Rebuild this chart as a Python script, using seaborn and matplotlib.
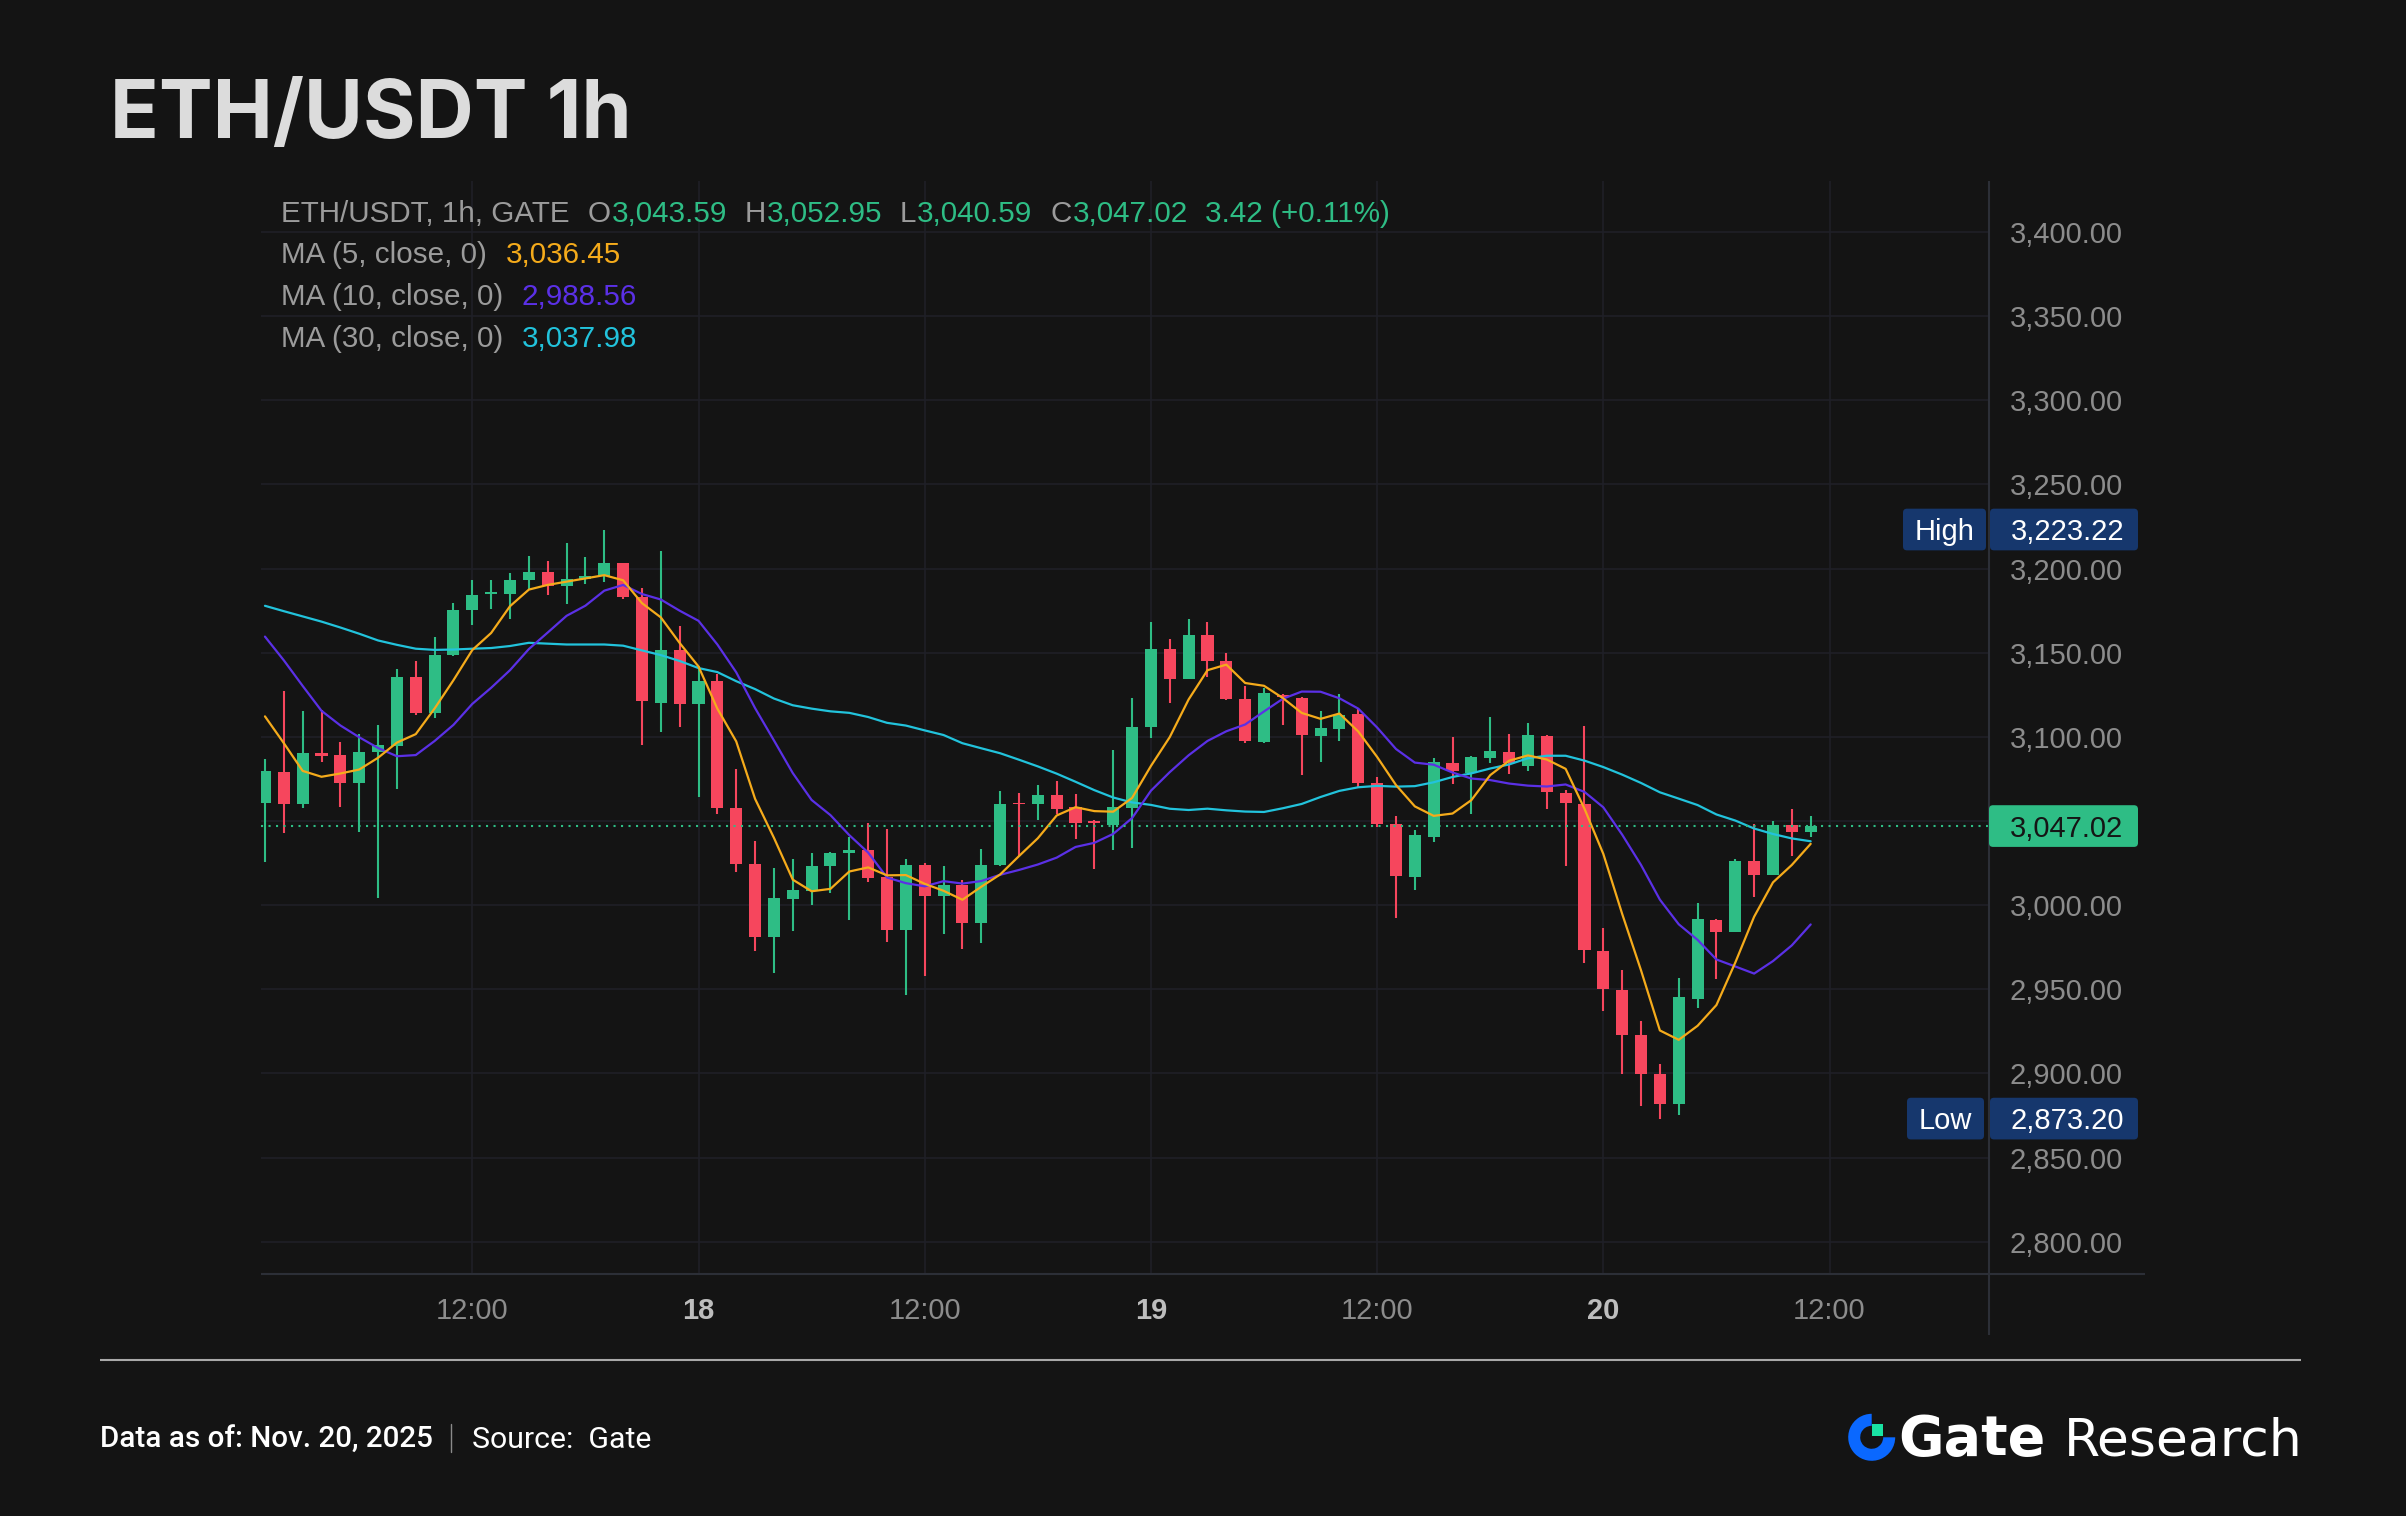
import numpy as np
import pandas as pd
import matplotlib
matplotlib.use("Agg")
import matplotlib.pyplot as plt
import seaborn as sns
from matplotlib.patches import FancyBboxPatch, Wedge, Rectangle

# ETH/USDT hourly candles, 17 Nov 2025 01:00 through 20 Nov 2025 11:00
opens = [3060.8, 3078.9, 3059.9, 3090.4, 3089.0, 3072.6, 3091.1, 3094.6, 3135.7, 3113.9,
         3148.6, 3175.4, 3185.0, 3185.0, 3193.0, 3197.9, 3189.7, 3193.7, 3195.8, 3203.1,
         3183.1, 3120.4, 3151.9, 3119.7, 3133.3, 3058.0, 3024.7, 2981.3, 3003.6, 3008.7,
         3023.0, 3031.0, 3032.7, 3016.5, 2985.2, 3023.9, 3005.3, 3012.2, 2989.5, 3023.9,
         3060.8, 3059.9, 3065.3, 3058.2, 3049.8, 3047.4, 3057.5, 3105.9, 3152.1, 3134.5,
         3160.3, 3145.3, 3122.3, 3096.9, 3125.1, 3123.3, 3100.3, 3104.5, 3113.4, 3072.7,
         3048.1, 3016.9, 3040.6, 3084.5, 3078.7, 3087.3, 3091.1, 3082.9, 3100.3, 3066.9,
         3060.4, 2972.6, 2949.8, 2922.6, 2899.6, 2882.0, 2944.4, 2991.1, 2984.33, 3026.0,
         3018.22, 3047.43, 3043.59]
highs = [3086.9, 3127.5, 3115.5, 3116.2, 3096.7, 3101.7, 3106.8, 3140.2, 3145.3, 3159.4,
         3179.3, 3193.0, 3193.0, 3197.2, 3207.5, 3204.7, 3215.0, 3206.8, 3223.22, 3203.5,
         3188.5, 3210.6, 3166.0, 3142.0, 3137.3, 3081.0, 3038.1, 3021.9, 3027.7, 3031.3,
         3031.5, 3040.4, 3049.1, 3045.3, 3027.7, 3024.9, 3023.3, 3015.1, 3033.6, 3067.9,
         3066.9, 3071.6, 3073.5, 3066.2, 3050.5, 3092.0, 3123.3, 3168.3, 3158.0, 3170.0,
         3168.3, 3149.8, 3130.3, 3129.1, 3125.5, 3124.0, 3115.5, 3125.6, 3116.9, 3076.3,
         3052.8, 3044.4, 3087.3, 3099.8, 3088.6, 3112.0, 3101.7, 3108.3, 3101.0, 3068.7,
         3106.4, 2986.4, 2961.3, 2931.3, 2905.4, 2956.6, 3001.2, 2991.8, 3027.7, 3048.2,
         3049.8, 3057.1, 3052.95]
lows = [3025.9, 3042.7, 3057.5, 3085.2, 3058.5, 3043.5, 3004.3, 3068.8, 3113.0, 3111.5,
        3148.0, 3166.4, 3176.1, 3170.2, 3187.8, 3184.3, 3179.1, 3190.8, 3192.0, 3181.9,
        3095.3, 3102.8, 3105.9, 3064.1, 3054.0, 3020.0, 2972.6, 2959.9, 2984.8, 3000.0,
        3007.1, 2991.1, 3014.0, 2978.1, 2946.8, 2957.8, 2983.0, 2974.0, 2977.7, 3023.5,
        3029.4, 3050.5, 3054.0, 3039.3, 3021.4, 3032.7, 3034.1, 3099.3, 3120.2, 3134.3,
        3135.5, 3122.0, 3096.5, 3096.5, 3107.3, 3077.5, 3085.2, 3097.6, 3069.6, 3046.3,
        2992.5, 3009.0, 3037.6, 3072.3, 3054.0, 3084.2, 3078.0, 3079.9, 3057.1, 3023.5,
        2965.6, 2937.1, 2899.6, 2880.8, 2873.20, 2875.5, 2939.0, 2956.2, 2984.33, 3004.7,
        3018.22, 3029.4, 3040.59]
closes = [3079.6, 3059.9, 3090.4, 3088.8, 3072.6, 3091.3, 3094.9, 3135.5, 3113.9, 3148.8,
          3175.4, 3184.5, 3186.2, 3193.4, 3198.1, 3189.4, 3194.1, 3195.8, 3203.1, 3182.9,
          3121.4, 3151.9, 3119.7, 3133.3, 3057.5, 3024.2, 2981.3, 3004.0, 3008.9, 3023.0,
          3031.3, 3032.9, 3016.2, 2985.2, 3023.9, 3005.3, 3012.2, 2989.5, 3023.9, 3060.3,
          3059.9, 3065.3, 3057.1, 3048.6, 3048.6, 3058.2, 3106.1, 3152.1, 3134.5, 3160.3,
          3145.1, 3122.7, 3097.5, 3126.2, 3123.9, 3100.9, 3105.1, 3113.3, 3072.8, 3048.3,
          3017.5, 3041.7, 3085.1, 3079.7, 3088.2, 3091.7, 3084.5, 3100.9, 3067.5, 3060.5,
          2973.2, 2950.2, 2922.7, 2899.8, 2882.0, 2945.4, 2991.8, 2984.33, 3026.0, 3018.22,
          3047.43, 3043.60, 3047.02]

# moving-average values of the first bars, whose look-back window reaches before 17 Nov 01:00
ma5_lead = [3112.2, 3096.3, 3079.8, 3076.3]
ma10_lead = [3159.6, 3145.5, 3130.3, 3115.5, 3106.8, 3099.8, 3093.4, 3088.5, 3089.2]
ma30_lead = [3177.9, 3174.7, 3171.6, 3168.5, 3165.0, 3161.3, 3157.3, 3154.7, 3152.4, 3151.7,
             3151.9, 3152.4, 3152.8, 3154.0, 3155.9, 3155.4, 3154.9, 3154.9, 3154.9, 3154.2,
             3151.4, 3148.6, 3145.1, 3140.9, 3138.5, 3133.1, 3128.4, 3122.8, 3118.8]

first_bar = "2025-11-17 01:00"
price_ticks = list(range(2800, 3401, 50))

# ---------------------------------------------------------------- style
BG = "#141414"
GRID = "#1f2027"
AXLINE = "#2c2f37"
GREEN = "#2ebd85"
RED = "#f6465d"
C_MA5 = "#f5ab1b"
C_MA10 = "#5b30e6"
C_MA30 = "#22c3dc"
LEGEND_GRAY = "#9b9b9b"
TICK_GRAY = "#8c8c8c"
TAG_BLUE = "#16376d"
UI_FONT = ["Liberation Sans", "DejaVu Sans"]

sns.set_theme(style="dark", rc={
    "figure.facecolor": BG, "axes.facecolor": BG, "savefig.facecolor": BG,
    "axes.edgecolor": BG, "grid.color": GRID, "axes.grid": True,
})
plt.rcParams["font.family"] = UI_FONT

W, H = 2406, 1516
fig = plt.figure(figsize=(W / 100, H / 100), dpi=100)

# plot area in pixels (left, top, right, bottom)
PL, PT, PR, PB = 261, 181, 1989, 1273.6
ax = fig.add_axes([PL / W, 1 - PB / H, (PR - PL) / W, (PB - PT) / H])

n = len(closes)
bars = np.arange(n)
o = np.array(opens); h = np.array(highs); l = np.array(lows); c = np.array(closes)

# hourly time axis, extended past the last bar to leave room on the right
hours = pd.date_range(first_bar, periods=n + 10, freq="h")
tick_idx = [i for i, t in enumerate(hours) if t.hour in (0, 12)]
tick_lab = [str(hours[i].day) if hours[i].hour == 0 else "12:00" for i in tick_idx]

ax.set_xlim(-0.21, 91.46)
ax.set_ylim(2781.1, 3430.3)

# moving averages of the close
close_s = pd.Series(c)
def moving_average(window, lead):
    ma = close_s.rolling(window).mean().to_numpy()
    ma[:len(lead)] = lead
    return ma

ma = pd.DataFrame({
    "bar": bars,
    "MA5": moving_average(5, ma5_lead),
    "MA10": moving_average(10, ma10_lead),
    "MA30": moving_average(30, ma30_lead),
})

# candles
up = c >= o
col = np.where(up, GREEN, RED)
ax.vlines(bars, l, h, colors=col, linewidth=1.5, zorder=3)
body_lo = np.minimum(o, c)
body_h = np.maximum(np.abs(c - o), 0.9)
ax.bar(bars, body_h, bottom=body_lo, width=0.64, color=col, linewidth=0, zorder=4)

long = ma.melt(id_vars="bar", var_name="series", value_name="value")
sns.lineplot(data=long, x="bar", y="value", hue="series",
             palette={"MA5": C_MA5, "MA10": C_MA10, "MA30": C_MA30},
             hue_order=["MA30", "MA10", "MA5"], linewidth=1.6, legend=False,
             ax=ax, zorder=5)

# last price line
last = c[-1]
ax.axhline(last, color=GREEN, linewidth=1.5, linestyle=(0, (1, 2.6)), zorder=6)

# axes, ticks, grid
for s in ax.spines.values():
    s.set_visible(False)
ax.set_xlabel(""); ax.set_ylabel("")
ax.set_yticks(price_ticks, labels=[f"{v:,.2f}" for v in price_ticks])
ax.yaxis.tick_right()
ax.tick_params(axis="y", length=0, pad=15, labelsize=21, labelcolor=TICK_GRAY)
ax.set_xticks(tick_idx, labels=tick_lab)
ax.tick_params(axis="x", length=0, pad=17, labelsize=21, labelcolor=TICK_GRAY)
for t in ax.get_xticklabels():
    if t.get_text() != "12:00":
        t.set_fontweight("bold")
        t.set_color("#bdbdbd")
ax.grid(True, color=GRID, linewidth=1.2)
ax.set_axisbelow(True)

# ---------------------------------------------------------------- overlay in pixel units
ov = fig.add_axes([0, 0, 1, 1], zorder=10)
ov.set_xlim(0, W); ov.set_ylim(H, 0)
ov.axis("off")
ov.patch.set_alpha(0)

# axis frame lines
ov.plot([PL, 2145], [PB, PB], color=AXLINE, linewidth=1.5, solid_capstyle="butt")
ov.plot([PR, PR], [PT, 1335], color=AXLINE, linewidth=1.5, solid_capstyle="butt")

renderer = fig.canvas.get_renderer()

def price_to_px(p):
    return H - ax.transData.transform((0, p))[1]

def tag(x0, x1, price, text, face, tcolor, ha="left", tx=None):
    yc = price_to_px(price)
    bh = 41.7
    ov.add_patch(FancyBboxPatch((x0, yc - bh / 2), x1 - x0, bh,
                                boxstyle="round,pad=0,rounding_size=4",
                                facecolor=face, edgecolor="none", zorder=20))
    ov.text(tx if tx is not None else x0 + 21, yc + 10.5, text, color=tcolor,
            fontsize=21, ha=ha, va="baseline", family=UI_FONT, zorder=21)

hi = h.max(); lo = l.min()
tag(1903, 1986, hi, "High", TAG_BLUE, "white", ha="center", tx=1944.5)
tag(1990, 2138, hi, f"{hi:,.2f}", TAG_BLUE, "white")
tag(1907, 1984, lo, "Low", TAG_BLUE, "white", ha="center", tx=1945.5)
tag(1990, 2138, lo, f"{lo:,.2f}", TAG_BLUE, "white")
tag(1989, 2138, last, f"{last:,.2f}", GREEN, "#151515")

# title
ov.text(110, 138, "ETH/USDT 1h", fontsize=58, fontweight="bold",
        family=["Inter", "DejaVu Sans"], color="#dcdcdc", va="baseline")

# legend lines above the candles
def write_runs(x, y, runs, size=21.3):
    for txt, color, gap in runs:
        t = ov.text(x, y, txt, color=color, fontsize=size, va="baseline",
                    ha="left", family=UI_FONT)
        x += t.get_window_extent(renderer=renderer).width + gap

chg = c[-1] - c[-2]
pct = chg / c[-2] * 100
chg_col = GREEN if chg >= 0 else RED
write_runs(280.7, 221.7, [
    ("ETH/USDT, 1h, GATE", LEGEND_GRAY, 18.5),
    ("O", LEGEND_GRAY, 1), (f"{o[-1]:,.2f}", chg_col, 17.5),
    ("H", LEGEND_GRAY, 1), (f"{h[-1]:,.2f}", chg_col, 17.5),
    ("L", LEGEND_GRAY, 1), (f"{l[-1]:,.2f}", chg_col, 17.5),
    ("C", LEGEND_GRAY, 1), (f"{c[-1]:,.2f}", chg_col, 17.5),
    (f"{chg:.2f} ({pct:+.2f}%)", chg_col, 0),
])
for k, (name, color) in enumerate([("MA5", C_MA5), ("MA10", C_MA10), ("MA30", C_MA30)]):
    win = name[2:]
    write_runs(280.7, 263.4 + 41.7 * k, [
        (f"MA ({win}, close, 0)", LEGEND_GRAY, 19),
        (f"{ma[name].iloc[-1]:,.2f}", color, 0),
    ])

# footer
ov.plot([100, 2301], [1359.5, 1359.5], color="#a9a9a9", linewidth=1.5, solid_capstyle="butt")
ov.text(100, 1448, "Data as of: Nov. 20, 2025", fontsize=21.3, fontweight="medium",
        family=["Roboto", "DejaVu Sans"], color="white", va="baseline")
ov.plot([451, 451], [1424, 1452], color="#8a8a8a", linewidth=1.0)
ov.text(472, 1448, "Source:  Gate", fontsize=21.8, family=["Roboto", "DejaVu Sans"],
        color="white", va="baseline")

# Gate Research mark
cx, cy = 1871.7, 1437.3
ov.add_patch(Wedge((cx, cy), 23.5, 0, 270, width=12, facecolor="#0a68ff", edgecolor="none"))
ov.add_patch(Rectangle((cx, cy - 13.0), 11.6, 11.6, facecolor="#19e3a3", edgecolor="none"))
ov.text(1898, 1455, "Gate", fontsize=40, fontweight="bold", family=["DejaVu Sans"],
        color="white", va="baseline")
ov.text(2064, 1455, "Research", fontsize=37.5, family=["DejaVu Sans"],
        color="white", va="baseline")

fig.savefig("out.png", dpi=100, facecolor=BG)
